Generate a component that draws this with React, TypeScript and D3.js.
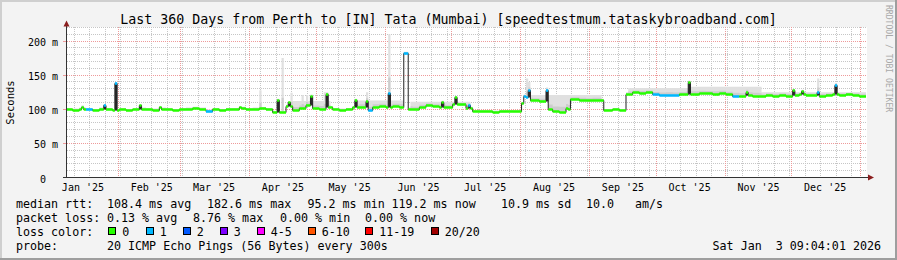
import React from "react";
import * as d3 from "d3";

const W = 897;
const H = 260;
const FONT = "'DejaVu Sans Mono', monospace";

const TITLE = "Last 360 Days from Perth to [IN] Tata (Mumbai) [speedtestmum.tataskybroadband.com]";
const Y_TITLE = "Seconds";
const WATERMARK = "RRDTOOL / TOBI OETIKER";
const START = new Date(2025, 0, 8, 9, 4, 1);
const END = new Date(2026, 0, 3, 9, 4, 1);
const DAY_MS = 86400000;
const N_DAYS = 360;
const BUCKET_DAYS = 3;

// median rtt (ms) per 3-day bucket
const MEDIAN_MS = [
  100, 99.5, 101, 100, 99, 101, 100, 99, 100, 99,
  100, 101, 100, 99.5, 101, 100, 99, 100, 101, 102,
  101, 98, 100, 99, 100, 100.5, 102, 100, 101, 101.5,
  100, 96, 96, 105, 99, 102, 106, 102, 101, 103,
  100, 99.5, 100, 103, 104, 99, 104, 105, 103, 105,
  104, 101, 100, 104, 106, 105, 104, 103, 108, 107,
  102, 97.5, 97, 97, 96.5, 97, 97.5, 97, 98, 114,
  113, 112, 101, 97, 96.5, 100, 115, 114, 113, 114,
  114, 99, 100, 99, 123, 125, 124, 125, 122, 121,
  121.5, 121, 122, 123, 123, 124, 123.5, 123, 124, 122,
  120, 119, 121, 120, 119, 121, 120, 121, 120, 121,
  122, 121, 121, 120, 121, 122, 121, 122, 121, 119.5,
];
// lost pings per 3-day bucket
const LOSS_PINGS = [
  0, 0, 0, 1, 0, 0, 0, 0, 0, 0,
  0, 0, 0, 0, 0, 0, 0, 0, 0, 0,
  0, 1, 0, 0, 0, 0, 0, 0, 0, 0,
  0, 0, 0, 0, 0, 0, 0, 0, 0, 0,
  0, 0, 0, 0, 0, 1, 0, 0, 0, 0,
  0, 0, 0, 0, 0, 0, 0, 0, 0, 0,
  0, 0, 0, 0, 0, 0, 0, 0, 0, 0,
  0, 0, 0, 0, 0, 0, 0, 0, 0, 0,
  0, 0, 0, 0, 0, 0, 0, 0, 1, 1,
  1, 1, 0, 0, 0, 0, 0, 0, 0, 0,
  1, 0, 0, 0, 0, 0, 0, 0, 0, 0,
  0, 0, 0, 0, 0, 0, 0, 0, 0, 0,
];
// single-day medians: [day, ms, lost pings]
const SPIKES: [number, number, number][] = [
  [7, 104, 0], [17, 105.5, 1], [22, 138, 1], [33, 105.5, 0], [42, 103, 0],
  [78, 103, 0], [95, 114, 0], [100, 110, 0], [110, 120, 0], [117, 123, 0],
  [130, 114, 0], [135, 112, 0], [145, 124, 1], [152, 182.6, 1], [153, 182.6, 1],
  [169, 111, 0], [175, 118, 0], [181, 106, 1], [205, 109, 0], [206, 120, 1],
  [207, 118, 1], [208, 128, 1], [216, 128, 1], [225, 102, 0], [227, 115, 0],
  [242, 99, 0], [280, 140, 0], [306, 126, 0], [327, 128, 0], [331, 127, 0],
  [338, 126, 1], [346, 136, 1],
];
// smoke (ping spread) upper bound: [first day, last day, ms]
const SMOKE_BANDS: [number, number, number][] = [
  [101, 118, 112], [130, 152, 113], [155, 181, 111], [207, 240, 121],
  [253, 280, 131], [281, 312, 133], [313, 359, 125],
];
const SMOKE_SPIKES: [number, number][] = [
  [87, 128], [97, 175], [101, 124], [106, 121], [108, 121], [116, 125],
  [135, 125], [145, 210], [207, 145], [208, 140], [216, 132], [280, 142],
  [338, 145], [346, 138],
];

const Y_TICKS = [0, 50, 100, 150, 200];
const Y_MAX = 220;

const LOSS_LABELS = ["0", "1", "2", "3", "4-5", "6-10", "11-19", "20/20"];
const LOSS_COLORS = ["#26ff00", "#00b8ff", "#0059ff", "#7e00ff", "#ff00ff", "#ff5500", "#ff0000", "#a00000"];
const LOSS_BOX_X = [108, 145.5, 182.5, 219.5, 256.5, 307.5, 365, 430.5];

const RTT_LABEL = "median rtt:";
const RTT_STATS = ["108.4 ms avg", "182.6 ms max", "95.2 ms min", "119.2 ms now", "10.9 ms sd", "10.0", "am/s"];
const RTT_X = [107, 207, 307.5, 391.5, 501, 586, 635];
const LOSS_LABEL = "packet loss:";
const LOSS_STATS = ["0.13 % avg", "8.76 % max", "0.00 % min", "0.00 % now"];
const LOSS_X = [107, 193, 280, 365];
const PROBE_LABEL = "probe:";
const PROBE_TEXT = "20 ICMP Echo Pings (56 Bytes) every 300s";
const DATE_TEXT = "Sat Jan  3 09:04:01 2026";

function lossClass(n: number): number {
  if (n <= 3) return n;
  if (n <= 5) return 4;
  if (n <= 10) return 5;
  if (n <= 19) return 6;
  return 7;
}

type P = { d: number; v: number; loss: number; hi: number };

export default function App() {
  const x = d3.scaleTime().domain([START, END]).range([66, 866]);
  const y = d3.scaleLinear().domain([0, Y_MAX]).range([177.5, 27.35]);
  const dayX = (d: number) => x(new Date(START.getTime() + d * DAY_MS));

  const series: P[] = d3.range(N_DAYS).map((d) => {
    const b = Math.floor(d / BUCKET_DAYS);
    return { d, v: MEDIAN_MS[b], loss: LOSS_PINGS[b], hi: 0 };
  });
  SPIKES.forEach(([d, v, l]) => {
    series[d].v = v;
    series[d].loss = l;
  });
  SMOKE_BANDS.forEach(([a, b, h]) => {
    for (let d = a; d <= b; d++) series[d].hi = Math.max(series[d].hi, h);
  });
  SMOKE_SPIKES.forEach(([d, h]) => {
    series[d].hi = Math.max(series[d].hi, h);
  });
  const last = series[N_DAYS - 1];
  const pts: P[] = [...series, { ...last, d: N_DAYS }];

  // isolated one-day peaks get a dark body (dense smoke near the median)
  const peaks = series.filter((p, i) => {
    const a = series[i - 1];
    const b = series[i + 1];
    return a && b && p.v - a.v > 3 && p.v - b.v > 3;
  });

  const yr = (v: number) => Math.round(y(v)) + 0.5;
  const step = d3.line<P>().x((p) => dayX(p.d)).y((p) => yr(p.v)).curve(d3.curveStepAfter);
  const band = d3
    .area<P>()
    .x((p) => dayX(p.d))
    .y0((p) => yr(p.v) + 1.3)
    .y1((p) => yr(p.v) - 1.3)
    .curve(d3.curveStepAfter);
  const smokeOuter = d3
    .area<P>()
    .x((p) => dayX(p.d))
    .y0((p) => y(p.v - 1.5))
    .y1((p) => y(Math.max(p.hi, p.v + 1.5)))
    .curve(d3.curveStepAfter);
  const smokeInner = d3
    .area<P>()
    .x((p) => dayX(p.d))
    .y0((p) => y(p.v - 1))
    .y1((p) => y(p.v + Math.max(p.hi - p.v, 0) * 0.25 + 1))
    .curve(d3.curveStepAfter);

  // colored runs by loss class
  const runs: { c: number; pts: P[] }[] = [];
  let cur: { c: number; pts: P[] } | null = null;
  series.forEach((p) => {
    const c = lossClass(p.loss);
    if (!cur || cur.c !== c) {
      cur = { c, pts: [] };
      runs.push(cur);
    }
    cur.pts.push(p);
  });

  const px = (v: number) => Math.floor(v) + 0.5;
  const months = d3.timeMonth.range(START, END);
  const monthKeys = new Set(months.map((m) => Math.floor(x(m))));
  const weeks = d3.timeWeek.range(START, END).filter((w) => !monthKeys.has(Math.floor(x(w))));
  const labelMonths = d3.timeMonth
    .range(d3.timeMonth.floor(START), END)
    .map((m) => ({ m, cx: x(d3.timeDay.offset(m, 15)) }))
    .filter((o) => o.cx > 66 && o.cx < 866);
  const fmt = d3.timeFormat("%b '%y");
  const minorY = d3.range(10, Y_MAX + 1, 10).filter((v) => v % 50 !== 0);
  const majorY = Y_TICKS.filter((v) => v > 0);

  const GRID = "#c6c6c6";
  const MGRID = "#ee9a9a";
  const AXIS = "#333333";
  const ARROW = "#8b1e1e";

  return (
    <svg width={W} height={H} style={{ position: "absolute", left: 0, top: 0, display: "block" }} fontFamily={FONT}>
      <rect x={0} y={0} width={W} height={H} fill="#f3f3f3" />
      <rect x={0} y={0} width={W} height={2} fill="#cfcfcf" />
      <rect x={0} y={0} width={2} height={H} fill="#cfcfcf" />
      <rect x={0} y={H - 2} width={W} height={2} fill="#9e9e9e" />
      <rect x={W - 2} y={0} width={2} height={H} fill="#9e9e9e" />

      <text x={448.5} y={24} textAnchor="middle" fontSize={13.3} fill="#000">
        {TITLE}
      </text>

      <rect x={67} y={27} width={800} height={150} fill="#ffffff" />

      <g shapeRendering="crispEdges" strokeDasharray="1,1" strokeWidth={1}>
        {weeks.map((w, i) => (
          <line key={"w" + i} x1={px(x(w))} x2={px(x(w))} y1={27} y2={177} stroke={GRID} />
        ))}
        {minorY.map((v) => (
          <line key={"my" + v} x1={67} x2={867} y1={px(y(v))} y2={px(y(v))} stroke={GRID} />
        ))}
        {months.map((m, i) => (
          <line key={"m" + i} x1={px(x(m))} x2={px(x(m))} y1={27} y2={177} stroke={MGRID} />
        ))}
        {majorY.map((v) => (
          <line key={"My" + v} x1={67} x2={867} y1={px(y(v))} y2={px(y(v))} stroke={MGRID} />
        ))}
      </g>
      <g shapeRendering="crispEdges">
        {majorY.map((v) => (
          <line key={"t" + v} x1={63} x2={66} y1={px(y(v))} y2={px(y(v))} stroke={MGRID} />
        ))}
      </g>

      <path d={smokeOuter(pts) || ""} fill="#e0e0e0" />
      <path d={smokeInner(pts) || ""} fill="#cdcdcd" />
      {peaks.map((p) => {
        const base = Math.max(series[p.d - 1].v, series[p.d + 1].v);
        return (
          <rect
            key={"pk" + p.d}
            x={dayX(p.d)}
            width={dayX(p.d + 1) - dayX(p.d)}
            y={yr(p.v)}
            height={Math.max(yr(base) - yr(p.v), 0)}
            fill="#2a2a2a"
          />
        );
      })}
      <path d={step(pts) || ""} fill="none" stroke="#202020" strokeWidth={1} />
      {runs.map((r, i) => {
        const lp = r.pts[r.pts.length - 1];
        return (
          <path
            key={"r" + i}
            d={band([...r.pts, { ...lp, d: lp.d + 1 }]) || ""}
            fill={LOSS_COLORS[r.c]}
            stroke="none"
          />
        );
      })}

      <g shapeRendering="crispEdges">
        <line x1={63} x2={869} y1={177.5} y2={177.5} stroke={AXIS} />
        <line x1={66.5} x2={66.5} y1={177.5} y2={25} stroke={AXIS} />
      </g>
      <polygon points="63.5,26.5 66.5,20.5 69.5,26.5" fill={ARROW} />
      <polygon points="868,174.5 874,177.5 868,180.5" fill={ARROW} />

      {Y_TICKS.map((v) => (
        <g key={"yl" + v} fontSize={10} fill="#000">
          <text x={46} y={Math.round(y(v)) + 4.5} textAnchor="end">
            {String(v)}
          </text>
          {v !== 0 && (
            <text x={52} y={Math.round(y(v)) + 4.5}>
              m
            </text>
          )}
        </g>
      ))}
      {labelMonths.map((o, i) => (
        <text key={"xl" + i} x={o.cx} y={190.5} textAnchor="middle" fontSize={10} fill="#000" xmlSpace="preserve">
          {fmt(o.m)}
        </text>
      ))}
      <text transform="translate(13.5,102.5) rotate(-90)" textAnchor="middle" fontSize={10.5} fill="#000">
        {Y_TITLE}
      </text>
      <text transform="translate(886,5) rotate(90)" fontSize={8.1} fill="#a8a8a8">
        {WATERMARK}
      </text>

      <g fontSize={11.67} fill="#000">
        <text x={16} y={207.5}>{RTT_LABEL}</text>
        {RTT_STATS.map((s, i) => (
          <text key={"rs" + i} x={RTT_X[i]} y={207.5}>
            {s}
          </text>
        ))}
        <text x={16} y={221.7}>{LOSS_LABEL}</text>
        {LOSS_STATS.map((s, i) => (
          <text key={"ls" + i} x={LOSS_X[i]} y={221.7}>
            {s}
          </text>
        ))}
        <text x={16} y={235.9}>loss color:</text>
        {LOSS_LABELS.map((s, i) => (
          <g key={"lc" + i}>
            <rect x={LOSS_BOX_X[i] + 0.5} y={227.5} width={7} height={7} fill={LOSS_COLORS[i]} stroke="#000" strokeWidth={1} shapeRendering="crispEdges" />
            <text x={LOSS_BOX_X[i] + 14.3} y={235.9}>
              {s}
            </text>
          </g>
        ))}
        <text x={16} y={250}>{PROBE_LABEL}</text>
        <text x={107} y={250}>{PROBE_TEXT}</text>
        <text x={881} y={250} textAnchor="end" xmlSpace="preserve">
          {DATE_TEXT}
        </text>
      </g>
    </svg>
  );
}
